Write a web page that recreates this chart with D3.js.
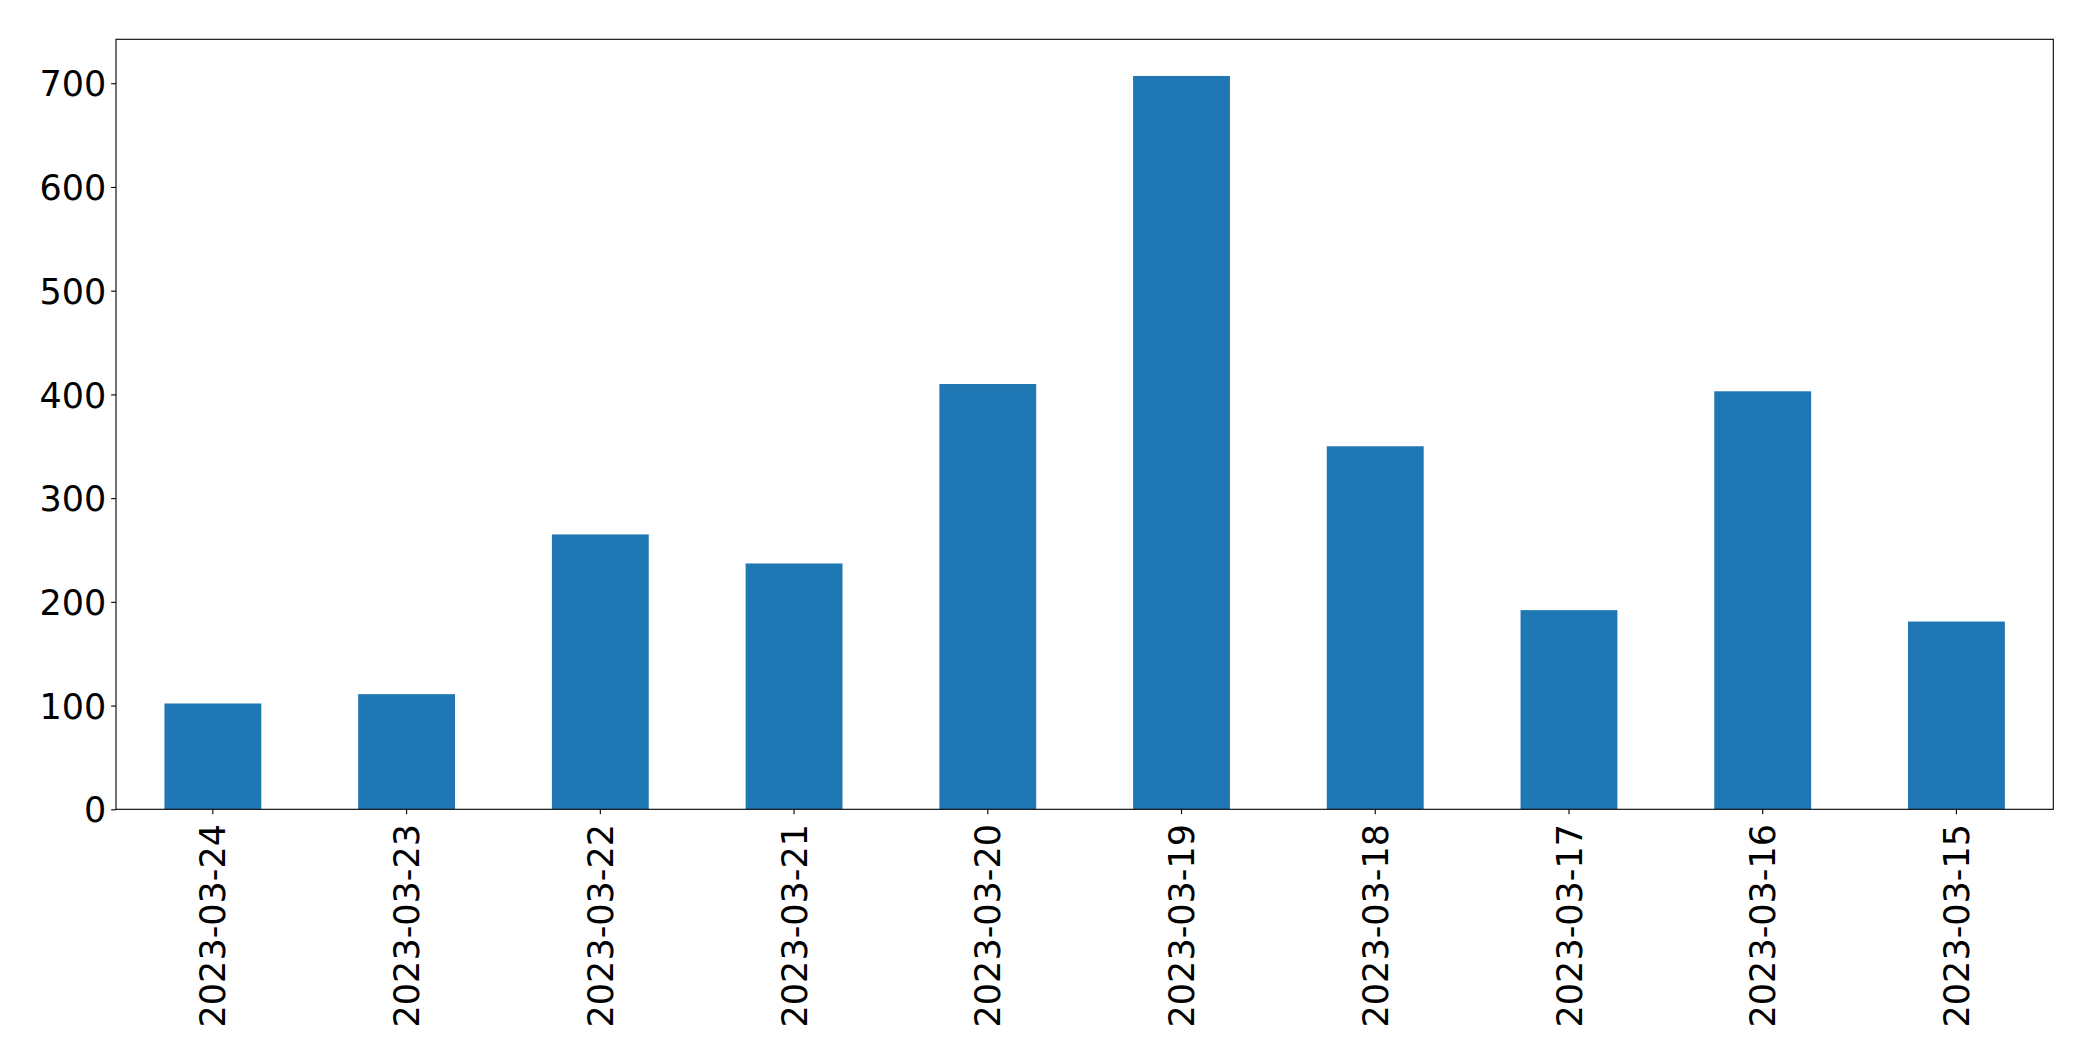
<!DOCTYPE html>
<html>
<head>
<meta charset="utf-8">
<script src="https://cdn.jsdelivr.net/npm/d3@7"></script>
<style>
  html, body { margin: 0; padding: 0; background: #fff; }
  svg { display: block; }
  text { font-family: "DejaVu Sans", sans-serif; }
</style>
</head>
<body>
<svg id="chart" width="2093" height="1061"></svg>
<script>
const categories = ["2023-03-24","2023-03-23","2023-03-22","2023-03-21","2023-03-20","2023-03-19","2023-03-18","2023-03-17","2023-03-16","2023-03-15"];
const values = [102, 111, 265, 237, 410, 707, 350, 192, 403, 181];
const yTicks = [0, 100, 200, 300, 400, 500, 600, 700];

const W = 2093, H = 1061;
const margin = { left: 116, right: W - 2053.3, top: 39.3, bottom: H - 809.3 };
const fontSize = 35;
const tickLen = 4.86, pad = 4.86;

const svg = d3.select("#chart");

const x = d3.scaleBand()
  .domain(categories)
  .range([margin.left, W - margin.right])
  .paddingInner(0.5)
  .paddingOuter(0.25);

const yMax = d3.max(values) * 1.05;
const y = d3.scaleLinear()
  .domain([0, yMax])
  .range([H - margin.bottom, margin.top]);

// bars
svg.append("g")
  .selectAll("rect")
  .data(values)
  .join("rect")
  .attr("x", (d, i) => x(categories[i]))
  .attr("width", x.bandwidth())
  .attr("y", d => y(d))
  .attr("height", d => y(0) - y(d))
  .attr("fill", "#1f77b4");

// y axis
const yAxis = d3.axisLeft(y)
  .tickValues(yTicks)
  .tickSize(tickLen)
  .tickPadding(pad)
  .tickFormat(d3.format("d"));
const gy = svg.append("g")
  .attr("transform", `translate(${margin.left},0)`)
  .call(yAxis);
gy.select(".domain").remove();
gy.selectAll("line").attr("stroke", "#000").attr("stroke-width", 1.1);
gy.selectAll("text")
  .attr("font-size", fontSize)
  .attr("fill", "#000")
  .attr("font-family", "DejaVu Sans")
  .attr("dy", "0.36em");

// x axis
const xAxis = d3.axisBottom(x)
  .tickSize(tickLen)
  .tickPadding(pad);
const gx = svg.append("g")
  .attr("transform", `translate(0,${H - margin.bottom})`)
  .call(xAxis);
gx.select(".domain").remove();
gx.selectAll("line").attr("stroke", "#000").attr("stroke-width", 1.1);
gx.selectAll("text")
  .attr("font-size", fontSize)
  .attr("fill", "#000")
  .attr("font-family", "DejaVu Sans")
  .attr("transform", `translate(0,${tickLen + pad + 5}) rotate(-90)`)
  .attr("x", 0)
  .attr("y", 0)
  .attr("dy", "0.36em")
  .attr("text-anchor", "end");

// frame
svg.append("rect")
  .attr("x", margin.left)
  .attr("y", margin.top)
  .attr("width", W - margin.right - margin.left)
  .attr("height", H - margin.bottom - margin.top)
  .attr("fill", "none")
  .attr("stroke", "#000")
  .attr("stroke-width", 1.1);
</script>
</body>
</html>
